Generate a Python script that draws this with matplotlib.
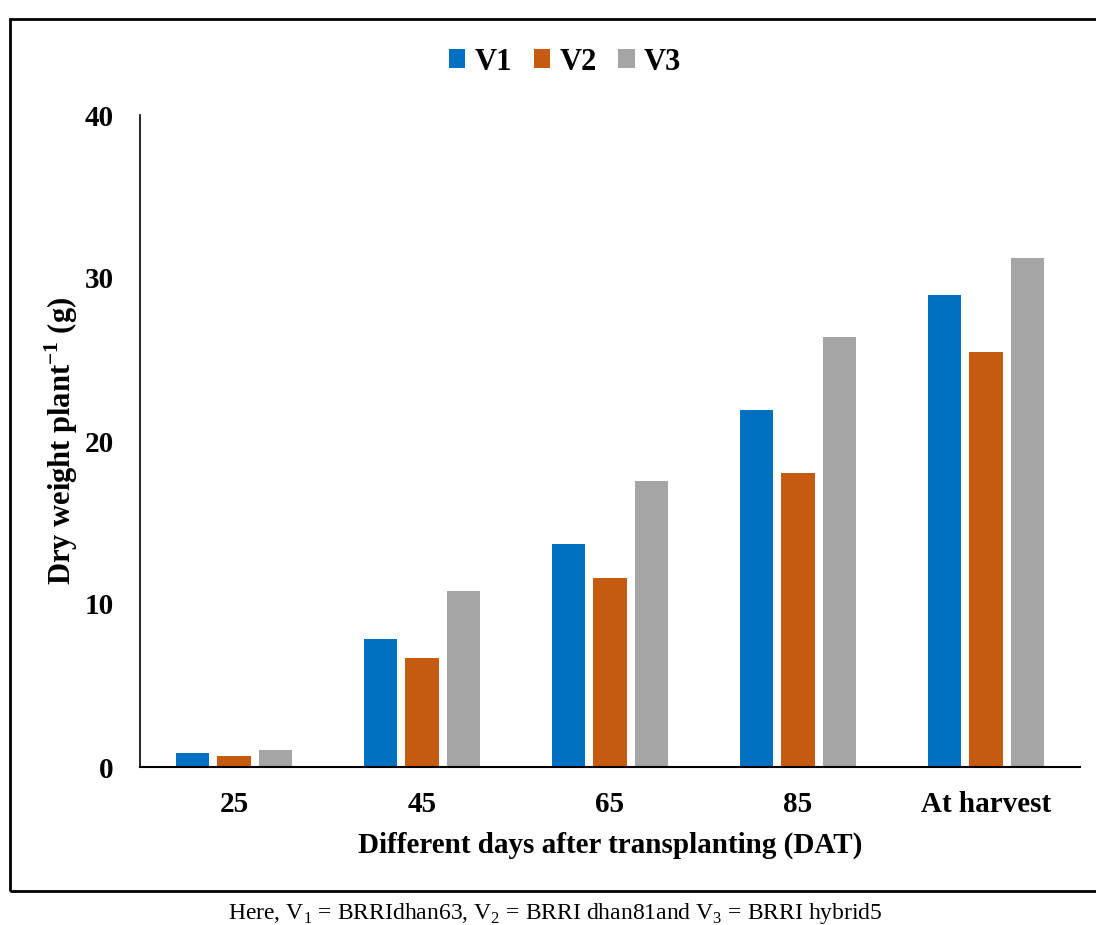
import numpy as np
import matplotlib
matplotlib.use("Agg")
import matplotlib.pyplot as plt
from matplotlib.patches import Rectangle

plt.rcParams['font.family'] = ['Liberation Serif', 'DejaVu Serif']
plt.rcParams['mathtext.fontset'] = 'custom'
plt.rcParams['mathtext.rm'] = 'Liberation Serif'
plt.rcParams['mathtext.bf'] = 'Liberation Serif:bold'

# data
categories = ["25", "45", "65", "85", "At harvest"]
series_names = ["V1", "V2", "V3"]
v1 = [0.86, 7.85, 13.68, 21.9, 28.96]
v2 = [0.67, 6.69, 11.6, 18.04, 25.46]
v3 = [1.04, 10.8, 17.55, 26.38, 31.23]
colors = ["#0070C0", "#C55A11", "#A5A5A5"]

fig = plt.figure(figsize=(10.96, 9.25), dpi=100)

# outer chart frame (right side runs off the canvas)
fig.patches.append(Rectangle((10 / 1096, 1 - 891 / 925), 1.2, (891 - 19) / 925,
                             transform=fig.transFigure, fill=False,
                             edgecolor="black", linewidth=2.0))

ax = fig.add_axes([140 / 1096, 158 / 925, 940 / 1096, 652 / 925])

x = np.arange(len(categories))
width = 0.178
step = 0.222
for i, (vals, name) in enumerate(zip([v1, v2, v3], series_names)):
    ax.bar(x + (i - 1) * step, vals, width, color=colors[i], label=name)

ax.set_xlim(-0.5, len(categories) - 0.5)
ax.set_ylim(0, 40)
ax.set_yticks([0, 10, 20, 30, 40])
ax.set_xticks(x)
ax.set_xticklabels(categories)
for s in ["top", "right"]:
    ax.spines[s].set_visible(False)
ax.spines["left"].set_linewidth(1.2)
ax.spines["bottom"].set_linewidth(1.5)
ax.tick_params(axis="both", length=0, labelsize=21)
ax.tick_params(axis="y", pad=19)
ax.tick_params(axis="x", pad=17)
for lbl in ax.get_xticklabels() + ax.get_yticklabels():
    lbl.set_fontweight("bold")

ax.set_xlabel("Different days after transplanting (DAT)", fontsize=21,
              fontweight="bold", labelpad=10)
ax.set_ylabel(r"Dry weight plant$^{\mathbf{-1}}$ (g)", fontsize=22,
              fontweight="bold", labelpad=3)

leg = fig.legend(loc="center", bbox_to_anchor=(565 / 1096, 1 - 62 / 925), ncol=3,
                 frameon=False, prop={"weight": "bold", "size": 22},
                 handlelength=0.55, handleheight=0.55, handletextpad=0.3,
                 columnspacing=0.7)

fig.text(555 / 1096, 1 - 913 / 925,
         r"Here, V$_1$ = BRRIdhan63, V$_2$ = BRRI dhan81and V$_3$ = BRRI hybrid5",
         ha="center", va="center", fontsize=17)

fig.savefig("out.png", dpi=100)
